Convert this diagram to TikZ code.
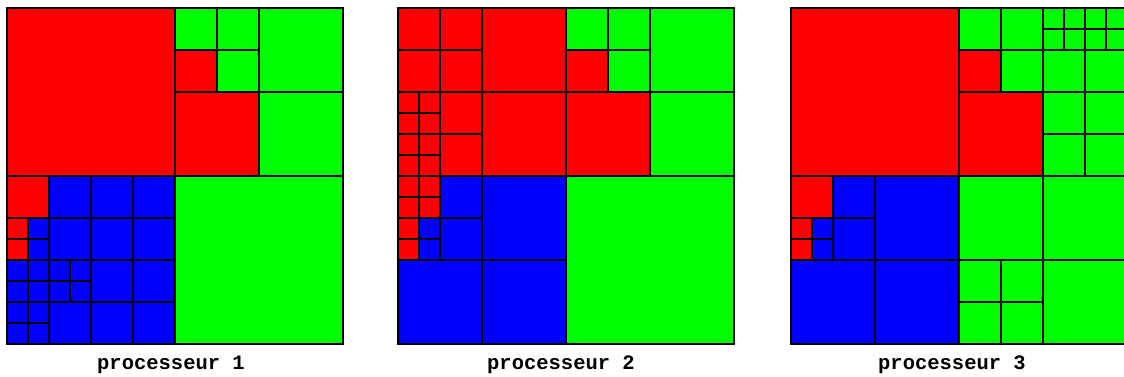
\documentclass[tikz,border=0pt]{standalone}
\usepackage{fontspec}
\setmonofont{Liberation Mono}
\tikzset{
  cellline/.style={draw=black,line width=1.4pt},
  region/.style={draw=black,line width=2.2pt,line join=miter},
  proclabel/.style={font=\ttfamily\bfseries\fontsize{20.5}{22}\selectfont,anchor=base,inner sep=0pt},
  panel/.style={x=21pt,y=-21pt},
}
\newcommand\qcell[4]{\filldraw[fill=#4,cellline] ({#1},{#2}) rectangle ++({#3},{#3});}
\newcommand\qsplit[4]{%
  \pgfmathsetmacro\qhalf{(#3)/2}%
  \qcell{#1}{#2}{\qhalf}{#4}\qcell{(#1)+\qhalf}{#2}{\qhalf}{#4}%
  \qcell{#1}{(#2)+\qhalf}{\qhalf}{#4}\qcell{(#1)+\qhalf}{(#2)+\qhalf}{\qhalf}{#4}}
\newcommand\qregions{%
  \draw[region] (0,0) -- (8,0) -- (8,2) -- (10,2) -- (10,4) -- (12,4) -- (12,8) -- (2,8) -- (2,10) -- (1,10) -- (1,12) -- (0,12) -- cycle;
  \draw[region] (2,8) -- (8,8) -- (8,16) -- (0,16) -- (0,12) -- (1,12) -- (1,10) -- (2,10) -- cycle;
  \draw[region] (8,0) -- (16,0) -- (16,16) -- (8,16) -- (8,8) -- (12,8) -- (12,4) -- (10,4) -- (10,2) -- (8,2) -- cycle;}
\newcommand\qsmallmix{%
  \qcell{0}{10}{1}{red}\qcell{1}{10}{1}{blue}\qcell{0}{11}{1}{red}\qcell{1}{11}{1}{blue}}
\newcommand\qtrone{%
  \qcell{8}{0}{2}{green}\qcell{10}{0}{2}{green}\qcell{8}{2}{2}{red}\qcell{10}{2}{2}{green}
  \qcell{12}{0}{4}{green}\qcell{8}{4}{4}{red}\qcell{12}{4}{4}{green}}
\begin{document}
\begin{tikzpicture}[x=1pt,y=-1pt]
\useasboundingbox (0,0) rectangle (1124,376);
\fill[white] (0,0) rectangle (1124,376);
\clip (0,0) rectangle (1124,376);
% panel 1
\begin{scope}[shift={(7pt,-8pt)},panel]
  \qcell{0}{0}{8}{red}
  \qtrone
  \qcell{8}{8}{8}{green}
  \qcell{0}{8}{2}{red}\qcell{2}{8}{2}{blue}
  \qsmallmix
  \qcell{2}{10}{2}{blue}
  \qsplit{4}{8}{4}{blue}
  \qsplit{0}{12}{2}{blue}\qsplit{2}{12}{2}{blue}\qsplit{0}{14}{2}{blue}\qcell{2}{14}{2}{blue}
  \qsplit{4}{12}{4}{blue}
  \qregions
\end{scope}
% panel 2
\begin{scope}[shift={(398pt,-8pt)},panel]
  \qsplit{0}{0}{4}{red}\qcell{4}{0}{4}{red}
  \qsplit{0}{4}{2}{red}\qcell{2}{4}{2}{red}\qsplit{0}{6}{2}{red}\qcell{2}{6}{2}{red}
  \qcell{4}{4}{4}{red}
  \qtrone
  \qsplit{0}{8}{2}{red}\qcell{2}{8}{2}{blue}
  \qsmallmix
  \qcell{2}{10}{2}{blue}
  \qcell{4}{8}{4}{blue}\qcell{0}{12}{4}{blue}\qcell{4}{12}{4}{blue}
  \qcell{8}{8}{8}{green}
  \qregions
\end{scope}
% panel 3
\begin{scope}[shift={(791pt,-8pt)},panel]
  \qcell{0}{0}{8}{red}
  \qcell{8}{0}{2}{green}\qcell{10}{0}{2}{green}\qcell{8}{2}{2}{red}\qcell{10}{2}{2}{green}
  \qsplit{12}{0}{2}{green}\qsplit{14}{0}{2}{green}\qcell{12}{2}{2}{green}\qcell{14}{2}{2}{green}
  \qcell{8}{4}{4}{red}\qsplit{12}{4}{4}{green}
  \qcell{0}{8}{2}{red}\qcell{2}{8}{2}{blue}
  \qsmallmix
  \qcell{2}{10}{2}{blue}
  \qcell{4}{8}{4}{blue}\qcell{0}{12}{4}{blue}\qcell{4}{12}{4}{blue}
  \qcell{8}{8}{4}{green}\qcell{12}{8}{4}{green}\qsplit{8}{12}{4}{green}\qcell{12}{12}{4}{green}
  \qregions
\end{scope}
\node[proclabel] (l1) at (171,369) {processeur 1};
\node[proclabel] (l2) at (561,369) {processeur 2};
\node[proclabel] (l3) at (952,369) {processeur 3};
\end{tikzpicture}
\end{document}
